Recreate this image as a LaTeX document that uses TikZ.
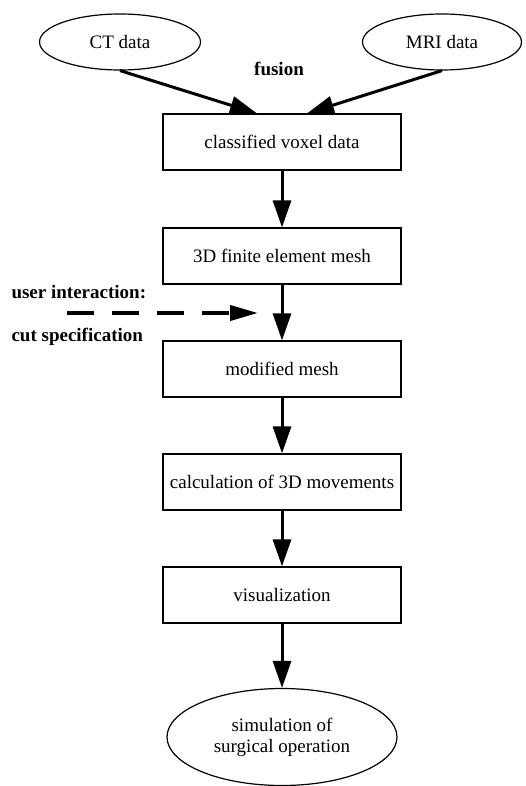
\documentclass[tikz,border=0pt]{standalone}
\usepackage{fontspec}
\setmainfont{Liberation Serif}
\usetikzlibrary{shapes,arrows.meta,positioning,calc}

\begin{document}
\begin{tikzpicture}[x=1pt, y=-1pt, font=\fontsize{19}{21}\selectfont]
        \tikzset{stage/.style={draw, line width=1.2pt, minimum width=238pt, minimum height=56pt, inner sep=0pt},
                 source/.style={ellipse, draw, line width=1.2pt, minimum width=161pt, minimum height=56pt, inner sep=0pt},
                 flow/.style={line width=3pt, -{Triangle[length=27pt, width=18pt]}},
                 note/.style={font=\fontsize{19}{21}\selectfont\bfseries}}
        \useasboundingbox (0,0) rectangle (525,786);

        \node [source] (ct) at (120, 42) {CT data};
        \node [source, minimum width=159pt] (mri) at (442, 42) {MRI data};
        \node [note] (fusion) at (279, 69) {fusion};

        \node [stage] (voxel) at (282, 142) {classified voxel data};
        \node [stage] (mesh) at (282, 256) {3D finite element mesh};
        \node [stage] (modified) at (282, 369) {modified mesh};
        \node [stage] (movements) at (282, 482) {calculation of 3D movements};
        \node [stage] (visual) at (282, 595) {visualization};
        \node [source, minimum width=230pt, minimum height=97pt, align=center] (surgery) at (282, 737) {simulation of\\surgical operation};

        \node [note, anchor=west] (user) at (8, 292) {user interaction:};
        \node [note, anchor=west] (cut) at (8, 337) {cut specification};

        % fusion of the two scans
        \draw [flow] (ct.south) -- ([xshift=-25pt]voxel.north);
        \draw [flow] (mri.south) -- ([xshift=25pt]voxel.north);

        % processing chain
        \draw [flow] (voxel) -- (mesh);
        \draw [flow] (mesh) -- (modified);
        \draw [flow] (modified) -- (movements);
        \draw [flow] (movements) -- (visual);
        \draw [flow] (visual) -- (surgery);

        % user input
        \coordinate (cutstart) at (67, 313);
        \coordinate (cutend) at (258, 313);
        \draw [line width=4pt, dash pattern=on 27pt off 18pt, -{Triangle[length=28pt, width=15pt]}] (cutstart) -- (cutend);
\end{tikzpicture}
\end{document}
